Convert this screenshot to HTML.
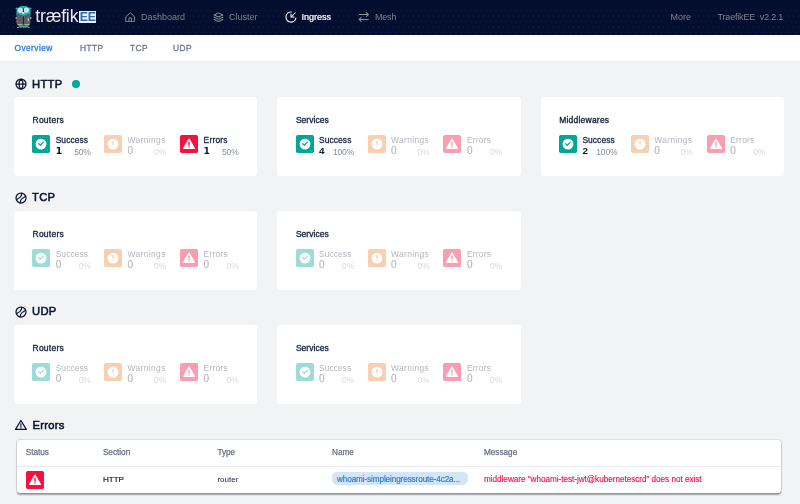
<!DOCTYPE html><html><head><meta charset="utf-8"><title>TraefikEE</title><style>
*{margin:0;padding:0;box-sizing:border-box}
html,body{width:800px;height:504px;overflow:hidden}
body{background:#f2f3f5;font-family:"Liberation Sans",sans-serif;position:relative;color:#0a1532;-webkit-font-smoothing:antialiased}
.abs{position:absolute}
.hdr{position:absolute;left:0;top:0;width:800px;height:34.7px;background:#030e2e}
.tabs{position:absolute;left:0;top:34.7px;width:800px;height:27px;background:#fff;border-bottom:1px solid #e9ebee}
.t{position:absolute;white-space:nowrap;line-height:1}
.nav{font-size:9px;color:#7e828c;top:13px;font-weight:400}
.nav.on{color:#fff;font-weight:400;-webkit-text-stroke:.22px #fff}
.tab{font-size:8.4px;letter-spacing:.42px;color:#6f7686;top:44.2px;font-weight:400;-webkit-text-stroke:.3px #6f7686}
.tab.on{color:#2d7fd3;-webkit-text-stroke:.3px #2d7fd3}
.h{font-size:11.2px;font-weight:400;color:#0a1532;-webkit-text-stroke:.55px #0a1532;letter-spacing:.3px}
.card{position:absolute;width:243.4px;height:78.5px;background:#fff;border-radius:3.2px}
.ct{font-size:8.5px;font-weight:400;color:#1b2541;-webkit-text-stroke:.36px #1b2541;left:18.5px;top:19px}
.ib{position:absolute;width:18px;height:18px;border-radius:1.8px;top:37.6px}
.ib svg{position:absolute;left:0;top:0;width:18px;height:18px}
.lb{font-size:8.4px;font-weight:400;color:#1b2541;-webkit-text-stroke:.3px #1b2541;top:38.5px}
.nm{font-size:9.8px;font-weight:700;color:#0a1532;top:48.9px}
.pc{font-size:8.5px;color:#848b9b;top:50.5px;letter-spacing:-.15px;text-align:right}
.nm.one{font-family:"DejaVu Sans",sans-serif;font-size:9.2px;margin-left:0;margin-top:.2px}
.dim .lb{color:#b3b6bd;font-weight:400;-webkit-text-stroke:0}
.dim .nm{color:#b3b6bd;font-weight:400;font-size:10px;-webkit-text-stroke:.15px #b3b6bd}
.dim .pc{color:#d8dadf;-webkit-text-stroke:0}
.tbl{position:absolute;left:17px;top:439.7px;width:764.3px;height:53.6px;background:#fff;border-radius:3px;box-shadow:0 0 0 .9px rgba(0,0,0,.08),0 1.2px 1.6px rgba(0,0,0,.34)}
.th{font-size:8.2px;color:#697182;font-weight:400;-webkit-text-stroke:.25px #697182;top:8.9px}
.td{font-size:8.1px;color:#1b2541;font-weight:400;top:36px}
</style></head><body><div class="hdr"><svg class="abs" style="left:0;top:0" width="800" height="34.700"><defs><pattern id="dots" x="0" y="10" width="10" height="11" patternUnits="userSpaceOnUse"><circle cx="1" cy=".700" r=".550" fill="#172449"/><circle cx="6" cy=".700" r=".550" fill="#172449"/><circle cx="3.500" cy="6" r=".550" fill="#172449"/><circle cx="8.500" cy="6" r=".550" fill="#172449"/></pattern></defs><rect x="0" y="9.500" width="800" height="24" fill="url(#dots)"/></svg><svg class="abs" style="left:12px;top:3px" width="24" height="28" viewBox="12 3 24 28">
<ellipse cx="16.800" cy="8.500" rx="1.300" ry="1.100" fill="#19b3b3"/><ellipse cx="30.200" cy="8.500" rx="1.300" ry="1.100" fill="#19b3b3"/>
<path d="M16.400 15.500V11.500C16.400 8 19.500 6 23.500 6S30.600 8 30.600 11.500V15.500Z" fill="#19b3b3"/>
<path d="M16.600 14.500C16.600 14 18 13.700 19 14L23.500 15.800 28 14C29 13.700 30.400 14 30.400 14.500V23.500C30.400 24.500 29.500 25 28.500 25H18.500C17.500 25 16.600 24.500 16.600 23.500Z" fill="#5a5d62"/>
<circle cx="20.300" cy="10.300" r="2.600" fill="#dfe7ee"/><circle cx="26.300" cy="10.100" r="2.600" fill="#dfe7ee"/>
<circle cx="20.100" cy="9.800" r="1.200" fill="#c9cfd6"/><circle cx="26.100" cy="9.600" r="1.200" fill="#c9cfd6"/>
<rect x="22.900" y="8.500" width=".9" height="3.500" fill="#0b1a3a"/>
<ellipse cx="23.300" cy="13" rx="1.300" ry="1" fill="#f6e6d4"/>
<path d="M19.500 14.200L23.400 16 27.300 14.200 23.400 14.600Z" fill="#19b3b3"/>
<rect x="23" y="16.500" width=".9" height="7.800" fill="#2a1a15"/>
<rect x="27.700" y="18" width="1.200" height="3.300" rx=".5" fill="#7fd6e8"/>
<ellipse cx="16.300" cy="18" rx=".9" ry="1" fill="#c99d72"/><ellipse cx="30.800" cy="18" rx=".9" ry="1" fill="#c99d72"/>
<ellipse cx="17" cy="21.200" rx=".8" ry=".8" fill="#b98c60"/>
<ellipse cx="20" cy="24.600" rx="2.700" ry=".9" fill="#c99d72"/><ellipse cx="27" cy="24.600" rx="2.700" ry=".9" fill="#c99d72"/>
<path d="M18 25.300H29L27.500 27.800H19.500Z" fill="#19b3b3"/>
<ellipse cx="18" cy="27.500" rx="1" ry=".6" fill="#d9a878"/><ellipse cx="29" cy="27.500" rx="1" ry=".6" fill="#d9a878"/>
</svg><span class="t" style="left:35.200px;top:7.900px;font-size:17.600px;color:#e8eaee;letter-spacing:-.15px">træfik</span><span class="t" style="left:79.400px;top:11px;width:16.700px;height:12px;background:#eef2f8;color:#2a6cb0;font-size:12.300px;font-weight:700;line-height:12.400px;text-align:center;letter-spacing:-.3px;overflow:hidden">EE</span><svg class="abs" style="left:124.500px;top:11.500px" width="10.500" height="10.800" viewBox="0 0 24 24" fill="none" stroke="#8b909c" stroke-width="2.200" stroke-linejoin="round" stroke-linecap="round"><path d="M2.500 10L12 1.200l9.500 8.800V22h-19z"/><path d="M9 22v-6.500a3 3 0 0 1 6 0V22"/></svg><span class="t nav" style="left:141px">Dashboard</span><svg class="abs" style="left:212.500px;top:11.500px" width="11" height="11" viewBox="0 0 24 24" fill="none" stroke="#8b909c" stroke-width="2.200" stroke-linejoin="round" stroke-linecap="round"><path d="M12 2L2.500 6.500 12 11l9.500-4.500z"/><path d="M2.500 11.500L12 16l9.500-4.500M2.500 16.500L12 21l9.500-4.500"/></svg><span class="t nav" style="left:229px">Cluster</span><svg class="abs" style="left:284.800px;top:11.100px" width="12" height="12" viewBox="0 0 24 24" fill="none" stroke="#f4f5f8" stroke-width="2.300" stroke-linejoin="round" stroke-linecap="round"><path d="M12.500 2.100A10 10 0 1 0 21.800 14.200"/><path d="M20.500 3.500l-8.500 8.500M12 5.800V12h6.200" stroke-width="2.100"/></svg><span class="t nav on" style="left:301.500px">Ingress</span><svg class="abs" style="left:358.200px;top:11px" width="11.500" height="11.500" viewBox="0 0 24 24" fill="none" stroke="#8b909c" stroke-width="2.100" stroke-linejoin="round" stroke-linecap="round"><path d="M2.500 7.200H21M17.500 3.200L21.800 7.200 17.500 11.200M21.500 17.600H3M6.500 13.600L2.200 17.600 6.500 21.600"/></svg><span class="t nav" style="left:375px;letter-spacing:-.2px">Mesh</span><span class="t nav" style="left:670.500px">More</span><span class="t nav" style="left:717.500px;letter-spacing:-.18px">TraefikEE&nbsp; v2.2.1</span></div><div class="tabs"></div><span class="t tab on" style="left:14.500px">Overview</span><span class="t tab" style="left:80px">HTTP</span><span class="t tab" style="left:130px">TCP</span><span class="t tab" style="left:173px">UDP</span><svg class="abs" style="left:15px;top:78px" width="12" height="12" viewBox="0 0 24 24" fill="none" stroke="#0a1532" stroke-width="2.500"><circle cx="12" cy="12" r="10"/><path d="M2 12h20M12 2c5.500 5 5.500 15 0 20M12 2c-5.500 5-5.500 15 0 20"/></svg><span class="t h" style="left:32px;top:78.500px">HTTP</span><div class="abs" style="left:71.800px;top:80px;width:8px;height:8px;border-radius:50%;background:#00a697"></div><div class="card" style="left:14px;top:97.3px"><span class="t ct" style="letter-spacing:0.25px">Routers</span><div class="st"><div class="ib" style="left:18.4px;background:#00a697"><svg viewBox="0 0 18 18"><circle cx="9" cy="9.100" r="5.450" fill="#fff"/><path d="M6.700 8.700l1.500 1.650 3-3.250" fill="none" stroke="#00a697" stroke-width="1.150" stroke-linecap="round" stroke-linejoin="round"/></svg></div><span class="t lb" style="left:41.7px;letter-spacing:0.1px">Success</span><span class="t nm one" style="left:41.7px">1</span><span class="t pc" style="left:41.7px;width:35px">50%</span></div><div class="st dim"><div class="ib" style="left:90.2px;background:#facfb0"><svg viewBox="0 0 18 18"><circle cx="9" cy="9.100" r="5.450" fill="#fff"/><path d="M9 6.500v3" fill="none" stroke="#f3a877" stroke-width=".750" stroke-linecap="round"/><circle cx="9" cy="11.400" r=".450" fill="#f3a877"/></svg></div><span class="t lb" style="left:113.5px;letter-spacing:0.4px">Warnings</span><span class="t nm" style="left:113.5px">0</span><span class="t pc" style="left:113.5px;width:38.5px">0%</span></div><div class="st"><div class="ib" style="left:166.1px;background:#fa0f3e"><svg viewBox="0 0 18 18"><path d="M9 4.3L14.2 13.3H3.8Z" fill="#fff" stroke="#fff" stroke-width="1.6" stroke-linejoin="round"/><path d="M9 7.2v3" fill="none" stroke="#fa0f3e" stroke-width="1.3" stroke-linecap="round"/><circle cx="9" cy="12" r=".75" fill="#fa0f3e"/></svg></div><span class="t lb" style="left:189.6px;letter-spacing:0.23px">Errors</span><span class="t nm one" style="left:189.6px">1</span><span class="t pc" style="left:189.6px;width:35px">50%</span></div></div><div class="card" style="left:277.4px;top:97.3px"><span class="t ct" style="letter-spacing:0.03px">Services</span><div class="st"><div class="ib" style="left:18.4px;background:#00a697"><svg viewBox="0 0 18 18"><circle cx="9" cy="9.100" r="5.450" fill="#fff"/><path d="M6.700 8.700l1.500 1.650 3-3.250" fill="none" stroke="#00a697" stroke-width="1.150" stroke-linecap="round" stroke-linejoin="round"/></svg></div><span class="t lb" style="left:41.7px;letter-spacing:0.1px">Success</span><span class="t nm" style="left:41.7px">4</span><span class="t pc" style="left:41.7px;width:35px">100%</span></div><div class="st dim"><div class="ib" style="left:90.2px;background:#facfb0"><svg viewBox="0 0 18 18"><circle cx="9" cy="9.100" r="5.450" fill="#fff"/><path d="M9 6.500v3" fill="none" stroke="#f3a877" stroke-width=".750" stroke-linecap="round"/><circle cx="9" cy="11.400" r=".450" fill="#f3a877"/></svg></div><span class="t lb" style="left:113.5px;letter-spacing:0.4px">Warnings</span><span class="t nm" style="left:113.5px">0</span><span class="t pc" style="left:113.5px;width:38.5px">0%</span></div><div class="st dim"><div class="ib" style="left:166.1px;background:#fb9db1"><svg viewBox="0 0 18 18"><path d="M9 4.3L14.2 13.3H3.8Z" fill="#fff" stroke="#fff" stroke-width="1.6" stroke-linejoin="round"/><path d="M9 7.2v3" fill="none" stroke="#fb9db1" stroke-width="1.3" stroke-linecap="round"/><circle cx="9" cy="12" r=".75" fill="#fb9db1"/></svg></div><span class="t lb" style="left:189.6px;letter-spacing:0.23px">Errors</span><span class="t nm" style="left:189.6px">0</span><span class="t pc" style="left:189.6px;width:35px">0%</span></div></div><div class="card" style="left:540.7px;top:97.3px"><span class="t ct" style="letter-spacing:0.22px">Middlewares</span><div class="st"><div class="ib" style="left:18.4px;background:#00a697"><svg viewBox="0 0 18 18"><circle cx="9" cy="9.100" r="5.450" fill="#fff"/><path d="M6.700 8.700l1.500 1.650 3-3.250" fill="none" stroke="#00a697" stroke-width="1.150" stroke-linecap="round" stroke-linejoin="round"/></svg></div><span class="t lb" style="left:41.7px;letter-spacing:0.1px">Success</span><span class="t nm" style="left:41.7px">2</span><span class="t pc" style="left:41.7px;width:35px">100%</span></div><div class="st dim"><div class="ib" style="left:90.2px;background:#facfb0"><svg viewBox="0 0 18 18"><circle cx="9" cy="9.100" r="5.450" fill="#fff"/><path d="M9 6.500v3" fill="none" stroke="#f3a877" stroke-width=".750" stroke-linecap="round"/><circle cx="9" cy="11.400" r=".450" fill="#f3a877"/></svg></div><span class="t lb" style="left:113.5px;letter-spacing:0.4px">Warnings</span><span class="t nm" style="left:113.5px">0</span><span class="t pc" style="left:113.5px;width:38.5px">0%</span></div><div class="st dim"><div class="ib" style="left:166.1px;background:#fb9db1"><svg viewBox="0 0 18 18"><path d="M9 4.3L14.2 13.3H3.8Z" fill="#fff" stroke="#fff" stroke-width="1.6" stroke-linejoin="round"/><path d="M9 7.2v3" fill="none" stroke="#fb9db1" stroke-width="1.3" stroke-linecap="round"/><circle cx="9" cy="12" r=".75" fill="#fb9db1"/></svg></div><span class="t lb" style="left:189.6px;letter-spacing:0.23px">Errors</span><span class="t nm" style="left:189.6px">0</span><span class="t pc" style="left:189.6px;width:35px">0%</span></div></div><svg class="abs" style="left:15px;top:192px" width="12" height="12" viewBox="0 0 24 24" fill="none" stroke="#0a1532" stroke-width="2.500" stroke-linecap="round"><circle cx="12" cy="12" r="10"/><path d="M13.800 2.200C13.500 7 12 9.500 9.500 11.300C7.500 12.800 5 13.600 3 16M10.200 21.800C10.500 17 12 14.500 14.500 12.700C16.500 11.200 19 10.400 21 8" stroke-width="2.300"/></svg><span class="t h" style="left:32px;top:192.400px">TCP</span><div class="card" style="left:14px;top:211.4px"><span class="t ct" style="letter-spacing:0.25px">Routers</span><div class="st dim"><div class="ib" style="left:18.4px;background:#9ddbd6"><svg viewBox="0 0 18 18"><circle cx="9" cy="9.100" r="5.450" fill="#fff"/><path d="M6.700 8.700l1.500 1.650 3-3.250" fill="none" stroke="#9ddbd6" stroke-width="1.150" stroke-linecap="round" stroke-linejoin="round"/></svg></div><span class="t lb" style="left:41.7px;letter-spacing:0.1px">Success</span><span class="t nm" style="left:41.7px">0</span><span class="t pc" style="left:41.7px;width:35px">0%</span></div><div class="st dim"><div class="ib" style="left:90.2px;background:#facfb0"><svg viewBox="0 0 18 18"><circle cx="9" cy="9.100" r="5.450" fill="#fff"/><path d="M9 6.500v3" fill="none" stroke="#f3a877" stroke-width=".750" stroke-linecap="round"/><circle cx="9" cy="11.400" r=".450" fill="#f3a877"/></svg></div><span class="t lb" style="left:113.5px;letter-spacing:0.4px">Warnings</span><span class="t nm" style="left:113.5px">0</span><span class="t pc" style="left:113.5px;width:38.5px">0%</span></div><div class="st dim"><div class="ib" style="left:166.1px;background:#fb9db1"><svg viewBox="0 0 18 18"><path d="M9 4.3L14.2 13.3H3.8Z" fill="#fff" stroke="#fff" stroke-width="1.6" stroke-linejoin="round"/><path d="M9 7.2v3" fill="none" stroke="#fb9db1" stroke-width="1.3" stroke-linecap="round"/><circle cx="9" cy="12" r=".75" fill="#fb9db1"/></svg></div><span class="t lb" style="left:189.6px;letter-spacing:0.23px">Errors</span><span class="t nm" style="left:189.6px">0</span><span class="t pc" style="left:189.6px;width:35px">0%</span></div></div><div class="card" style="left:277.4px;top:211.4px"><span class="t ct" style="letter-spacing:0.03px">Services</span><div class="st dim"><div class="ib" style="left:18.4px;background:#9ddbd6"><svg viewBox="0 0 18 18"><circle cx="9" cy="9.100" r="5.450" fill="#fff"/><path d="M6.700 8.700l1.500 1.650 3-3.250" fill="none" stroke="#9ddbd6" stroke-width="1.150" stroke-linecap="round" stroke-linejoin="round"/></svg></div><span class="t lb" style="left:41.7px;letter-spacing:0.1px">Success</span><span class="t nm" style="left:41.7px">0</span><span class="t pc" style="left:41.7px;width:35px">0%</span></div><div class="st dim"><div class="ib" style="left:90.2px;background:#facfb0"><svg viewBox="0 0 18 18"><circle cx="9" cy="9.100" r="5.450" fill="#fff"/><path d="M9 6.500v3" fill="none" stroke="#f3a877" stroke-width=".750" stroke-linecap="round"/><circle cx="9" cy="11.400" r=".450" fill="#f3a877"/></svg></div><span class="t lb" style="left:113.5px;letter-spacing:0.4px">Warnings</span><span class="t nm" style="left:113.5px">0</span><span class="t pc" style="left:113.5px;width:38.5px">0%</span></div><div class="st dim"><div class="ib" style="left:166.1px;background:#fb9db1"><svg viewBox="0 0 18 18"><path d="M9 4.3L14.2 13.3H3.8Z" fill="#fff" stroke="#fff" stroke-width="1.6" stroke-linejoin="round"/><path d="M9 7.2v3" fill="none" stroke="#fb9db1" stroke-width="1.3" stroke-linecap="round"/><circle cx="9" cy="12" r=".75" fill="#fb9db1"/></svg></div><span class="t lb" style="left:189.6px;letter-spacing:0.23px">Errors</span><span class="t nm" style="left:189.6px">0</span><span class="t pc" style="left:189.6px;width:35px">0%</span></div></div><svg class="abs" style="left:15px;top:306px" width="12" height="12" viewBox="0 0 24 24" fill="none" stroke="#0a1532" stroke-width="2.500" stroke-linecap="round"><circle cx="12" cy="12" r="10"/><path d="M13.800 2.200C13.500 7 12 9.500 9.500 11.300C7.500 12.800 5 13.600 3 16M10.200 21.800C10.500 17 12 14.500 14.500 12.700C16.500 11.200 19 10.400 21 8" stroke-width="2.300"/></svg><span class="t h" style="left:32px;top:306.400px">UDP</span><div class="card" style="left:14px;top:325.4px"><span class="t ct" style="letter-spacing:0.25px">Routers</span><div class="st dim"><div class="ib" style="left:18.4px;background:#9ddbd6"><svg viewBox="0 0 18 18"><circle cx="9" cy="9.100" r="5.450" fill="#fff"/><path d="M6.700 8.700l1.500 1.650 3-3.250" fill="none" stroke="#9ddbd6" stroke-width="1.150" stroke-linecap="round" stroke-linejoin="round"/></svg></div><span class="t lb" style="left:41.7px;letter-spacing:0.1px">Success</span><span class="t nm" style="left:41.7px">0</span><span class="t pc" style="left:41.7px;width:35px">0%</span></div><div class="st dim"><div class="ib" style="left:90.2px;background:#facfb0"><svg viewBox="0 0 18 18"><circle cx="9" cy="9.100" r="5.450" fill="#fff"/><path d="M9 6.500v3" fill="none" stroke="#f3a877" stroke-width=".750" stroke-linecap="round"/><circle cx="9" cy="11.400" r=".450" fill="#f3a877"/></svg></div><span class="t lb" style="left:113.5px;letter-spacing:0.4px">Warnings</span><span class="t nm" style="left:113.5px">0</span><span class="t pc" style="left:113.5px;width:38.5px">0%</span></div><div class="st dim"><div class="ib" style="left:166.1px;background:#fb9db1"><svg viewBox="0 0 18 18"><path d="M9 4.3L14.2 13.3H3.8Z" fill="#fff" stroke="#fff" stroke-width="1.6" stroke-linejoin="round"/><path d="M9 7.2v3" fill="none" stroke="#fb9db1" stroke-width="1.3" stroke-linecap="round"/><circle cx="9" cy="12" r=".75" fill="#fb9db1"/></svg></div><span class="t lb" style="left:189.6px;letter-spacing:0.23px">Errors</span><span class="t nm" style="left:189.6px">0</span><span class="t pc" style="left:189.6px;width:35px">0%</span></div></div><div class="card" style="left:277.4px;top:325.4px"><span class="t ct" style="letter-spacing:0.03px">Services</span><div class="st dim"><div class="ib" style="left:18.4px;background:#9ddbd6"><svg viewBox="0 0 18 18"><circle cx="9" cy="9.100" r="5.450" fill="#fff"/><path d="M6.700 8.700l1.500 1.650 3-3.250" fill="none" stroke="#9ddbd6" stroke-width="1.150" stroke-linecap="round" stroke-linejoin="round"/></svg></div><span class="t lb" style="left:41.7px;letter-spacing:0.1px">Success</span><span class="t nm" style="left:41.7px">0</span><span class="t pc" style="left:41.7px;width:35px">0%</span></div><div class="st dim"><div class="ib" style="left:90.2px;background:#facfb0"><svg viewBox="0 0 18 18"><circle cx="9" cy="9.100" r="5.450" fill="#fff"/><path d="M9 6.500v3" fill="none" stroke="#f3a877" stroke-width=".750" stroke-linecap="round"/><circle cx="9" cy="11.400" r=".450" fill="#f3a877"/></svg></div><span class="t lb" style="left:113.5px;letter-spacing:0.4px">Warnings</span><span class="t nm" style="left:113.5px">0</span><span class="t pc" style="left:113.5px;width:38.5px">0%</span></div><div class="st dim"><div class="ib" style="left:166.1px;background:#fb9db1"><svg viewBox="0 0 18 18"><path d="M9 4.3L14.2 13.3H3.8Z" fill="#fff" stroke="#fff" stroke-width="1.6" stroke-linejoin="round"/><path d="M9 7.2v3" fill="none" stroke="#fb9db1" stroke-width="1.3" stroke-linecap="round"/><circle cx="9" cy="12" r=".75" fill="#fb9db1"/></svg></div><span class="t lb" style="left:189.6px;letter-spacing:0.23px">Errors</span><span class="t nm" style="left:189.6px">0</span><span class="t pc" style="left:189.6px;width:35px">0%</span></div></div><svg class="abs" style="left:14.200px;top:419.400px" width="14" height="12" viewBox="0 0 14 12" fill="none" stroke="#0a1532" stroke-width="1.250" stroke-linejoin="round" stroke-linecap="round"><path d="M6.900 1.500L12.300 10.400H1.500Z"/><path d="M6.900 4.800v2.600" stroke-width="1.100"/><circle cx="6.900" cy="8.900" r=".350" fill="#0a1532" stroke-width=".500"/></svg><span class="t h" style="left:32.500px;top:420.200px">Errors</span><div class="tbl"><div class="abs" style="left:0;top:25.900px;width:100%;height:1px;background:#e9ebee"></div><span class="t th" style="left:8.7px">Status</span><span class="t th" style="left:85.9px">Section</span><span class="t th" style="left:200.4px">Type</span><span class="t th" style="left:315px">Name</span><span class="t th" style="left:467px">Message</span><div class="ib" style="left:9px;top:31.400px;background:#fa0f3e"><svg viewBox="0 0 18 18"><path d="M9 4.3L14.2 13.3H3.8Z" fill="#fff" stroke="#fff" stroke-width="1.6" stroke-linejoin="round"/><path d="M9 7.2v3" fill="none" stroke="#fa0f3e" stroke-width="1.3" stroke-linecap="round"/><circle cx="9" cy="12" r=".75" fill="#fa0f3e"/></svg></div><span class="t td" style="left:85.900px;-webkit-text-stroke:.22px #1b2541">HTTP</span><span class="t td" style="left:200.400px">router</span><div class="abs" style="left:315px;top:32.400px;width:135.500px;height:13.200px;border-radius:5px;background:#d3e5f6"></div><span class="t td" style="left:320px;color:#2d7fd3;font-size:8.2px;letter-spacing:-.12px;-webkit-text-stroke:.2px #2d7fd3">whoami-simpleingressroute-4c2a...</span><span class="t td" style="left:467px;color:#fa0f3e;font-size:8.2px;letter-spacing:-.04px;-webkit-text-stroke:.15px #fa0f3e">middleware "whoami-test-jwt@kubernetescrd" does not exist</span></div></body></html>
